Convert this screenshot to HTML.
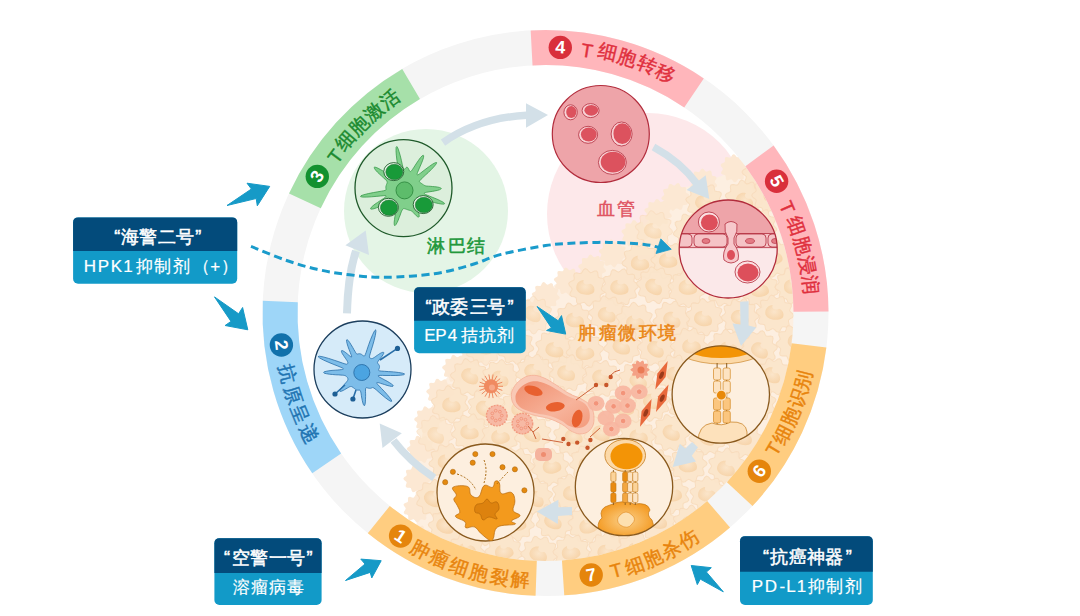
<!DOCTYPE html><html><head><meta charset="utf-8"><style>html,body{margin:0;padding:0;background:#fff;overflow:hidden}svg{display:block}text{font-family:"Liberation Sans",sans-serif}</style></head><body>
<svg width="1080" height="616" viewBox="0 0 1080 616">
<defs><clipPath id="inner"><circle cx="545.5" cy="313" r="249"/></clipPath></defs>
<circle cx="426" cy="211" r="82" fill="#e4f5e6"/>
<circle cx="648" cy="214" r="101" fill="#fde8ea"/>
<defs>
<path id="gear" d="M18.9,0 L17.9,1.9 L15.7,3.3 L14.4,4.7 L14.7,6.5 L15.5,9 L15.3,11.1 L13.3,12 L10.7,11.9 L8.9,12.2 L8,13.9 L7.3,16.4 L5.8,18 L3.7,17.6 L1.7,16 L0,15.1 L-1.7,16 L-3.7,17.6 L-5.8,18 L-7.3,16.4 L-8,13.9 L-8.9,12.2 L-10.7,11.9 L-13.3,12 L-15.3,11.1 L-15.5,9 L-14.7,6.5 L-14.4,4.7 L-15.7,3.3 L-17.9,1.9 L-18.9,0 L-17.9,-1.9 L-15.7,-3.3 L-14.4,-4.7 L-14.7,-6.5 L-15.5,-9 L-15.3,-11.1 L-13.3,-12 L-10.7,-11.9 L-8.9,-12.2 L-8,-13.9 L-7.3,-16.4 L-5.8,-18 L-3.7,-17.6 L-1.7,-16 L-0,-15.1 L1.7,-16 L3.7,-17.6 L5.8,-18 L7.3,-16.4 L8,-13.9 L8.9,-12.2 L10.7,-11.9 L13.3,-12 L15.3,-11.1 L15.5,-9 L14.7,-6.5 L14.4,-4.7 L15.7,-3.3 L17.9,-1.9Z"/>
<path id="bean" d="M-9,1.5 C-9.5,-4.5 -5.5,-7.5 -1,-7.5 C-3,-4.5 0.5,-1.5 5,-3.5 C8.5,-2 10,1.5 8.5,5 C6.5,8.5 -6.5,9 -9,1.5Z"/>
<radialGradient id="gBean" cx="50%" cy="45%" r="55%"><stop offset="0" stop-color="#fbe5ca"/><stop offset="1" stop-color="#f7d5ac"/></radialGradient>
</defs>
<g clip-path="url(#inner)">
<polygon points="417.7,555.1 415.6,493.3 417.5,465 422.5,433.8 432.1,406.1 446.5,378.3 464,358.4 498.2,330.7 535.4,305.7 555,284.6 579.7,276.3 604.1,258.8 621,245.9 649.5,220 684.2,187.8 722.9,175.5 746.3,159.3 850,150 850,600 417.1,594.1" fill="#fdefe1"/>
<use href="#gear" transform="translate(418.1,539.1) rotate(0) scale(0.75)" fill="#fce8d3"/>
<use href="#gear" transform="translate(417.1,508.4) rotate(53) scale(0.75)" fill="#fce8d3"/>
<use href="#gear" transform="translate(417.5,478.9) rotate(37) scale(0.75)" fill="#fce8d3"/>
<use href="#gear" transform="translate(421,449.3) rotate(74) scale(0.75)" fill="#fce8d3"/>
<use href="#gear" transform="translate(428.3,420) rotate(111) scale(0.75)" fill="#fce8d3"/>
<use href="#gear" transform="translate(440.3,392.4) rotate(148) scale(0.75)" fill="#fce8d3"/>
<use href="#gear" transform="translate(456.2,368.6) rotate(185) scale(0.75)" fill="#fce8d3"/>
<use href="#gear" transform="translate(473.5,351.9) rotate(222) scale(0.75)" fill="#fce8d3"/>
<use href="#gear" transform="translate(490.5,338.2) rotate(275) scale(0.75)" fill="#fce8d3"/>
<use href="#gear" transform="translate(508.4,325.1) rotate(259) scale(0.75)" fill="#fce8d3"/>
<use href="#gear" transform="translate(526.9,312.7) rotate(312) scale(0.75)" fill="#fce8d3"/>
<use href="#gear" transform="translate(545.8,296) rotate(296) scale(0.75)" fill="#fce8d3"/>
<use href="#gear" transform="translate(567.8,281.4) rotate(333) scale(0.75)" fill="#fce8d3"/>
<use href="#gear" transform="translate(592.1,268.5) rotate(10) scale(0.75)" fill="#fce8d3"/>
<use href="#gear" transform="translate(612.7,253.4) rotate(47) scale(0.75)" fill="#fce8d3"/>
<use href="#gear" transform="translate(635.3,234) rotate(84) scale(0.75)" fill="#fce8d3"/>
<use href="#gear" transform="translate(658.1,213) rotate(121) scale(0.75)" fill="#fce8d3"/>
<use href="#gear" transform="translate(675.4,196.9) rotate(174) scale(0.75)" fill="#fce8d3"/>
<use href="#gear" transform="translate(703.3,182.7) rotate(158) scale(0.75)" fill="#fce8d3"/>
<use href="#gear" transform="translate(734.3,168.3) rotate(195) scale(0.75)" fill="#fce8d3"/>
<use href="#gear" transform="translate(760.9,172.6) rotate(254)" fill="#fbe5cb" stroke="#f8dcbd" stroke-width="1" opacity="0.95"/>
<use href="#gear" transform="translate(704.5,201.9) rotate(224)" fill="#fbe5cb" stroke="#f8dcbd" stroke-width="1" opacity="0.95"/>
<use href="#gear" transform="translate(743.9,198.8) rotate(299)" fill="#fbe5cb" stroke="#f8dcbd" stroke-width="1" opacity="0.95"/>
<use href="#gear" transform="translate(770.6,195.4) rotate(288)" fill="#fbe5cb" stroke="#f8dcbd" stroke-width="1" opacity="0.95"/>
<use href="#gear" transform="translate(654,229.3) rotate(45)" fill="#fbe5cb" stroke="#f8dcbd" stroke-width="1" opacity="0.7"/>
<use href="#gear" transform="translate(692,231.1) rotate(135)" fill="#fbe5cb" stroke="#f8dcbd" stroke-width="1" opacity="0.95"/>
<use href="#gear" transform="translate(726.6,228.4) rotate(240)" fill="#fbe5cb" stroke="#f8dcbd" stroke-width="1" opacity="0.95"/>
<use href="#gear" transform="translate(758.2,226.4) rotate(83)" fill="#fbe5cb" stroke="#f8dcbd" stroke-width="1" opacity="0.95"/>
<use href="#gear" transform="translate(640.8,261.5) rotate(66)" fill="#fbe5cb" stroke="#f8dcbd" stroke-width="1" opacity="0.95"/>
<use href="#gear" transform="translate(669.7,261.1) rotate(4)" fill="#fbe5cb" stroke="#f8dcbd" stroke-width="1" opacity="0.95"/>
<use href="#gear" transform="translate(709.7,258.5) rotate(210)" fill="#fbe5cb" stroke="#f8dcbd" stroke-width="1" opacity="0.95"/>
<use href="#gear" transform="translate(740.6,255.9) rotate(338)" fill="#fbe5cb" stroke="#f8dcbd" stroke-width="1" opacity="0.95"/>
<use href="#gear" transform="translate(774.3,258.3) rotate(349)" fill="#fbe5cb" stroke="#f8dcbd" stroke-width="1" opacity="0.95"/>
<use href="#gear" transform="translate(587.2,287.4) rotate(48)" fill="#fbe5cb" stroke="#f8dcbd" stroke-width="1" opacity="0.95"/>
<use href="#gear" transform="translate(620,287.2) rotate(247)" fill="#fbe5cb" stroke="#f8dcbd" stroke-width="1" opacity="0.95"/>
<use href="#gear" transform="translate(655.2,285.2) rotate(150)" fill="#fbe5cb" stroke="#f8dcbd" stroke-width="1" opacity="0.95"/>
<use href="#gear" transform="translate(686.6,289) rotate(227)" fill="#fbe5cb" stroke="#f8dcbd" stroke-width="1" opacity="0.95"/>
<use href="#gear" transform="translate(724.1,288.1) rotate(142)" fill="#fbe5cb" stroke="#f8dcbd" stroke-width="1" opacity="0.95"/>
<use href="#gear" transform="translate(759.8,288.8) rotate(336)" fill="#fbe5cb" stroke="#f8dcbd" stroke-width="1" opacity="0.95"/>
<use href="#gear" transform="translate(793.9,285.8) rotate(355)" fill="#fbe5cb" stroke="#f8dcbd" stroke-width="1" opacity="0.95"/>
<use href="#gear" transform="translate(533.5,315.1) rotate(17)" fill="#fbe5cb" stroke="#f8dcbd" stroke-width="1" opacity="0.7"/>
<use href="#gear" transform="translate(572.7,321.4) rotate(256)" fill="#fbe5cb" stroke="#f8dcbd" stroke-width="1" opacity="0.95"/>
<use href="#gear" transform="translate(607.4,314.2) rotate(42)" fill="#fbe5cb" stroke="#f8dcbd" stroke-width="1" opacity="0.95"/>
<use href="#gear" transform="translate(634.5,321.1) rotate(15)" fill="#fbe5cb" stroke="#f8dcbd" stroke-width="1" opacity="0.95"/>
<use href="#gear" transform="translate(671.7,319.6) rotate(102)" fill="#fbe5cb" stroke="#f8dcbd" stroke-width="1" opacity="0.95"/>
<use href="#gear" transform="translate(704.6,317.2) rotate(263)" fill="#fbe5cb" stroke="#f8dcbd" stroke-width="1" opacity="0.95"/>
<use href="#gear" transform="translate(740.1,316.9) rotate(357)" fill="#fbe5cb" stroke="#f8dcbd" stroke-width="1" opacity="0.95"/>
<use href="#gear" transform="translate(774.8,313.6) rotate(43)" fill="#fbe5cb" stroke="#f8dcbd" stroke-width="1" opacity="0.95"/>
<use href="#gear" transform="translate(483.7,346.8) rotate(118)" fill="#fbe5cb" stroke="#f8dcbd" stroke-width="1" opacity="0.7"/>
<use href="#gear" transform="translate(515.1,345.9) rotate(9)" fill="#fbe5cb" stroke="#f8dcbd" stroke-width="1" opacity="0.95"/>
<use href="#gear" transform="translate(554.1,348.1) rotate(195)" fill="#fbe5cb" stroke="#f8dcbd" stroke-width="1" opacity="0.95"/>
<use href="#gear" transform="translate(584.9,350.6) rotate(173)" fill="#fbe5cb" stroke="#f8dcbd" stroke-width="1" opacity="0.95"/>
<use href="#gear" transform="translate(622.3,345.8) rotate(134)" fill="#fbe5cb" stroke="#f8dcbd" stroke-width="1" opacity="0.95"/>
<use href="#gear" transform="translate(656.3,347.6) rotate(111)" fill="#fbe5cb" stroke="#f8dcbd" stroke-width="1" opacity="0.95"/>
<use href="#gear" transform="translate(689.3,346.2) rotate(288)" fill="#fbe5cb" stroke="#f8dcbd" stroke-width="1" opacity="0.95"/>
<use href="#gear" transform="translate(727,348.2) rotate(301)" fill="#fbe5cb" stroke="#f8dcbd" stroke-width="1" opacity="0.95"/>
<use href="#gear" transform="translate(758.6,349.2) rotate(102)" fill="#fbe5cb" stroke="#f8dcbd" stroke-width="1" opacity="0.95"/>
<use href="#gear" transform="translate(794.8,343.2) rotate(141)" fill="#fbe5cb" stroke="#f8dcbd" stroke-width="1" opacity="0.95"/>
<use href="#gear" transform="translate(469.2,377.1) rotate(222)" fill="#fbe5cb" stroke="#f8dcbd" stroke-width="1" opacity="0.95"/>
<use href="#gear" transform="translate(500.3,378.4) rotate(275)" fill="#fbe5cb" stroke="#f8dcbd" stroke-width="1" opacity="0.95"/>
<use href="#gear" transform="translate(534.4,372.8) rotate(353)" fill="#fbe5cb" stroke="#f8dcbd" stroke-width="1" opacity="0.95"/>
<use href="#gear" transform="translate(568,373) rotate(140)" fill="#fbe5cb" stroke="#f8dcbd" stroke-width="1" opacity="0.95"/>
<use href="#gear" transform="translate(601.3,378.7) rotate(249)" fill="#fbe5cb" stroke="#f8dcbd" stroke-width="1" opacity="0.95"/>
<use href="#gear" transform="translate(637.1,379.8) rotate(196)" fill="#fbe5cb" stroke="#f8dcbd" stroke-width="1" opacity="0.95"/>
<use href="#gear" transform="translate(674,373) rotate(288)" fill="#fbe5cb" stroke="#f8dcbd" stroke-width="1" opacity="0.95"/>
<use href="#gear" transform="translate(709.9,380.2) rotate(52)" fill="#fbe5cb" stroke="#f8dcbd" stroke-width="1" opacity="0.95"/>
<use href="#gear" transform="translate(736.6,379.9) rotate(63)" fill="#fbe5cb" stroke="#f8dcbd" stroke-width="1" opacity="0.95"/>
<use href="#gear" transform="translate(773.4,376.5) rotate(38)" fill="#fbe5cb" stroke="#f8dcbd" stroke-width="1" opacity="0.95"/>
<use href="#gear" transform="translate(449.9,404.4) rotate(336)" fill="#fbe5cb" stroke="#f8dcbd" stroke-width="1" opacity="0.95"/>
<use href="#gear" transform="translate(486.5,406.7) rotate(90)" fill="#fbe5cb" stroke="#f8dcbd" stroke-width="1" opacity="0.95"/>
<use href="#gear" transform="translate(519.7,407.3) rotate(175)" fill="#fbe5cb" stroke="#f8dcbd" stroke-width="1" opacity="0.95"/>
<use href="#gear" transform="translate(555,403.7) rotate(43)" fill="#fbe5cb" stroke="#f8dcbd" stroke-width="1" opacity="0.95"/>
<use href="#gear" transform="translate(585,410.1) rotate(116)" fill="#fbe5cb" stroke="#f8dcbd" stroke-width="1" opacity="0.95"/>
<use href="#gear" transform="translate(624.3,409.3) rotate(6)" fill="#fbe5cb" stroke="#f8dcbd" stroke-width="1" opacity="0.95"/>
<use href="#gear" transform="translate(651.3,402.7) rotate(203)" fill="#fbe5cb" stroke="#f8dcbd" stroke-width="1" opacity="0.95"/>
<use href="#gear" transform="translate(687.2,405.6) rotate(51)" fill="#fbe5cb" stroke="#f8dcbd" stroke-width="1" opacity="0.95"/>
<use href="#gear" transform="translate(724,403) rotate(225)" fill="#fbe5cb" stroke="#f8dcbd" stroke-width="1" opacity="0.95"/>
<use href="#gear" transform="translate(757.3,402.8) rotate(98)" fill="#fbe5cb" stroke="#f8dcbd" stroke-width="1" opacity="0.95"/>
<use href="#gear" transform="translate(435.5,434.2) rotate(81)" fill="#fbe5cb" stroke="#f8dcbd" stroke-width="1" opacity="0.7"/>
<use href="#gear" transform="translate(470.2,432.4) rotate(173)" fill="#fbe5cb" stroke="#f8dcbd" stroke-width="1" opacity="0.95"/>
<use href="#gear" transform="translate(499.7,437.1) rotate(131)" fill="#fbe5cb" stroke="#f8dcbd" stroke-width="1" opacity="0.95"/>
<use href="#gear" transform="translate(532.7,434.2) rotate(93)" fill="#fbe5cb" stroke="#f8dcbd" stroke-width="1" opacity="0.95"/>
<use href="#gear" transform="translate(571.8,437.4) rotate(18)" fill="#fbe5cb" stroke="#f8dcbd" stroke-width="1" opacity="0.95"/>
<use href="#gear" transform="translate(602.3,432.9) rotate(23)" fill="#fbe5cb" stroke="#f8dcbd" stroke-width="1" opacity="0.95"/>
<use href="#gear" transform="translate(636.9,437.6) rotate(321)" fill="#fbe5cb" stroke="#f8dcbd" stroke-width="1" opacity="0.95"/>
<use href="#gear" transform="translate(670.9,432.7) rotate(111)" fill="#fbe5cb" stroke="#f8dcbd" stroke-width="1" opacity="0.95"/>
<use href="#gear" transform="translate(707.7,436.4) rotate(28)" fill="#fbe5cb" stroke="#f8dcbd" stroke-width="1" opacity="0.95"/>
<use href="#gear" transform="translate(743.3,439.3) rotate(65)" fill="#fbe5cb" stroke="#f8dcbd" stroke-width="1" opacity="0.95"/>
<use href="#gear" transform="translate(447.7,462) rotate(174)" fill="#fbe5cb" stroke="#f8dcbd" stroke-width="1" opacity="0.95"/>
<use href="#gear" transform="translate(486.9,468.6) rotate(358)" fill="#fbe5cb" stroke="#f8dcbd" stroke-width="1" opacity="0.95"/>
<use href="#gear" transform="translate(515.7,466.5) rotate(72)" fill="#fbe5cb" stroke="#f8dcbd" stroke-width="1" opacity="0.95"/>
<use href="#gear" transform="translate(550.2,467.3) rotate(312)" fill="#fbe5cb" stroke="#f8dcbd" stroke-width="1" opacity="0.95"/>
<use href="#gear" transform="translate(588.2,463.3) rotate(174)" fill="#fbe5cb" stroke="#f8dcbd" stroke-width="1" opacity="0.95"/>
<use href="#gear" transform="translate(618.8,467.5) rotate(149)" fill="#fbe5cb" stroke="#f8dcbd" stroke-width="1" opacity="0.95"/>
<use href="#gear" transform="translate(655.2,467.5) rotate(290)" fill="#fbe5cb" stroke="#f8dcbd" stroke-width="1" opacity="0.95"/>
<use href="#gear" transform="translate(688.2,464.1) rotate(142)" fill="#fbe5cb" stroke="#f8dcbd" stroke-width="1" opacity="0.95"/>
<use href="#gear" transform="translate(726.7,466.8) rotate(20)" fill="#fbe5cb" stroke="#f8dcbd" stroke-width="1" opacity="0.95"/>
<use href="#gear" transform="translate(434.7,498.2) rotate(198)" fill="#fbe5cb" stroke="#f8dcbd" stroke-width="1" opacity="0.95"/>
<use href="#gear" transform="translate(464.3,491.8) rotate(236)" fill="#fbe5cb" stroke="#f8dcbd" stroke-width="1" opacity="0.95"/>
<use href="#gear" transform="translate(499.5,492.7) rotate(224)" fill="#fbe5cb" stroke="#f8dcbd" stroke-width="1" opacity="0.95"/>
<use href="#gear" transform="translate(533.9,496.7) rotate(99)" fill="#fbe5cb" stroke="#f8dcbd" stroke-width="1" opacity="0.95"/>
<use href="#gear" transform="translate(570.8,492.8) rotate(337)" fill="#fbe5cb" stroke="#f8dcbd" stroke-width="1" opacity="0.95"/>
<use href="#gear" transform="translate(601.5,493.2) rotate(311)" fill="#fbe5cb" stroke="#f8dcbd" stroke-width="1" opacity="0.95"/>
<use href="#gear" transform="translate(635.4,497) rotate(357)" fill="#fbe5cb" stroke="#f8dcbd" stroke-width="1" opacity="0.95"/>
<use href="#gear" transform="translate(670.5,495.3) rotate(159)" fill="#fbe5cb" stroke="#f8dcbd" stroke-width="1" opacity="0.95"/>
<use href="#gear" transform="translate(708.5,494.8) rotate(300)" fill="#fbe5cb" stroke="#f8dcbd" stroke-width="1" opacity="0.95"/>
<use href="#gear" transform="translate(447,527.1) rotate(260)" fill="#fbe5cb" stroke="#f8dcbd" stroke-width="1" opacity="0.95"/>
<use href="#gear" transform="translate(487.8,527.1) rotate(63)" fill="#fbe5cb" stroke="#f8dcbd" stroke-width="1" opacity="0.95"/>
<use href="#gear" transform="translate(515.7,522.7) rotate(9)" fill="#fbe5cb" stroke="#f8dcbd" stroke-width="1" opacity="0.95"/>
<use href="#gear" transform="translate(554.7,521.3) rotate(60)" fill="#fbe5cb" stroke="#f8dcbd" stroke-width="1" opacity="0.95"/>
<use href="#gear" transform="translate(586.8,524.3) rotate(42)" fill="#fbe5cb" stroke="#f8dcbd" stroke-width="1" opacity="0.95"/>
<use href="#gear" transform="translate(624.6,525.2) rotate(26)" fill="#fbe5cb" stroke="#f8dcbd" stroke-width="1" opacity="0.95"/>
<use href="#gear" transform="translate(657.9,523) rotate(129)" fill="#fbe5cb" stroke="#f8dcbd" stroke-width="1" opacity="0.95"/>
<use href="#gear" transform="translate(691.3,523.9) rotate(271)" fill="#fbe5cb" stroke="#f8dcbd" stroke-width="1" opacity="0.95"/>
<use href="#gear" transform="translate(466.1,551.7) rotate(111)" fill="#fbe5cb" stroke="#f8dcbd" stroke-width="1" opacity="0.95"/>
<use href="#gear" transform="translate(503.9,552.8) rotate(185)" fill="#fbe5cb" stroke="#f8dcbd" stroke-width="1" opacity="0.95"/>
<use href="#gear" transform="translate(539.6,554.6) rotate(3)" fill="#fbe5cb" stroke="#f8dcbd" stroke-width="1" opacity="0.95"/>
<use href="#gear" transform="translate(571.8,552.8) rotate(75)" fill="#fbe5cb" stroke="#f8dcbd" stroke-width="1" opacity="0.95"/>
<use href="#gear" transform="translate(606.6,550.9) rotate(345)" fill="#fbe5cb" stroke="#f8dcbd" stroke-width="1" opacity="0.95"/>
<use href="#gear" transform="translate(635.1,550.9) rotate(3)" fill="#fbe5cb" stroke="#f8dcbd" stroke-width="1" opacity="0.95"/>
<use href="#bean" transform="translate(762.2,173.8) rotate(1)" fill="url(#gBean)" opacity="1"/>
<use href="#bean" transform="translate(704.1,203.1) rotate(11)" fill="url(#gBean)" opacity="1"/>
<use href="#bean" transform="translate(744.9,200.7) rotate(16)" fill="url(#gBean)" opacity="1"/>
<use href="#bean" transform="translate(772.4,195) rotate(-19)" fill="url(#gBean)" opacity="1"/>
<use href="#bean" transform="translate(653,230.9) rotate(10)" fill="url(#gBean)" opacity="0.75"/>
<use href="#bean" transform="translate(692.3,230) rotate(-23)" fill="url(#gBean)" opacity="1"/>
<use href="#bean" transform="translate(726,229.1) rotate(-5)" fill="url(#gBean)" opacity="1"/>
<use href="#bean" transform="translate(757.7,226.9) rotate(15)" fill="url(#gBean)" opacity="1"/>
<use href="#bean" transform="translate(639.9,263.1) rotate(-7)" fill="url(#gBean)" opacity="1"/>
<use href="#bean" transform="translate(668,260.5) rotate(-8)" fill="url(#gBean)" opacity="1"/>
<use href="#bean" transform="translate(708.6,259.5) rotate(12)" fill="url(#gBean)" opacity="1"/>
<use href="#bean" transform="translate(741.3,254.6) rotate(2)" fill="url(#gBean)" opacity="1"/>
<use href="#bean" transform="translate(772.9,257.7) rotate(-19)" fill="url(#gBean)" opacity="1"/>
<use href="#bean" transform="translate(585.3,287.4) rotate(-3)" fill="url(#gBean)" opacity="1"/>
<use href="#bean" transform="translate(619.3,287.4) rotate(-4)" fill="url(#gBean)" opacity="1"/>
<use href="#bean" transform="translate(654.1,286.7) rotate(22)" fill="url(#gBean)" opacity="1"/>
<use href="#bean" transform="translate(687.7,287.4) rotate(-8)" fill="url(#gBean)" opacity="1"/>
<use href="#bean" transform="translate(723.8,290) rotate(24)" fill="url(#gBean)" opacity="1"/>
<use href="#bean" transform="translate(759.4,289.6) rotate(-14)" fill="url(#gBean)" opacity="1"/>
<use href="#bean" transform="translate(792.9,286.5) rotate(-16)" fill="url(#gBean)" opacity="1"/>
<use href="#bean" transform="translate(532.8,313.8) rotate(22)" fill="url(#gBean)" opacity="0.75"/>
<use href="#bean" transform="translate(574.7,320) rotate(-7)" fill="url(#gBean)" opacity="1"/>
<use href="#bean" transform="translate(606.9,314.8) rotate(6)" fill="url(#gBean)" opacity="1"/>
<use href="#bean" transform="translate(635,322.6) rotate(-14)" fill="url(#gBean)" opacity="1"/>
<use href="#bean" transform="translate(672.2,319.6) rotate(17)" fill="url(#gBean)" opacity="1"/>
<use href="#bean" transform="translate(703.1,318.6) rotate(3)" fill="url(#gBean)" opacity="1"/>
<use href="#bean" transform="translate(739.9,317.6) rotate(9)" fill="url(#gBean)" opacity="1"/>
<use href="#bean" transform="translate(774.3,312.5) rotate(-4)" fill="url(#gBean)" opacity="1"/>
<use href="#bean" transform="translate(484,346.9) rotate(5)" fill="url(#gBean)" opacity="0.75"/>
<use href="#bean" transform="translate(515.6,345.7) rotate(-23)" fill="url(#gBean)" opacity="1"/>
<use href="#bean" transform="translate(554.5,349.8) rotate(4)" fill="url(#gBean)" opacity="1"/>
<use href="#bean" transform="translate(584.7,352.6) rotate(-17)" fill="url(#gBean)" opacity="1"/>
<use href="#bean" transform="translate(621.6,346.7) rotate(11)" fill="url(#gBean)" opacity="1"/>
<use href="#bean" transform="translate(655.9,349.1) rotate(24)" fill="url(#gBean)" opacity="1"/>
<use href="#bean" transform="translate(691.2,346.1) rotate(-18)" fill="url(#gBean)" opacity="1"/>
<use href="#bean" transform="translate(728.4,348.8) rotate(-13)" fill="url(#gBean)" opacity="1"/>
<use href="#bean" transform="translate(759.9,350.3) rotate(21)" fill="url(#gBean)" opacity="1"/>
<use href="#bean" transform="translate(796.8,341.5) rotate(0)" fill="url(#gBean)" opacity="1"/>
<use href="#bean" transform="translate(470.1,376.1) rotate(18)" fill="url(#gBean)" opacity="1"/>
<use href="#bean" transform="translate(500.1,378.5) rotate(15)" fill="url(#gBean)" opacity="1"/>
<use href="#bean" transform="translate(533.2,371.9) rotate(18)" fill="url(#gBean)" opacity="1"/>
<use href="#bean" transform="translate(566.3,373.2) rotate(7)" fill="url(#gBean)" opacity="1"/>
<use href="#bean" transform="translate(601.2,377.6) rotate(14)" fill="url(#gBean)" opacity="1"/>
<use href="#bean" transform="translate(638.5,380.9) rotate(14)" fill="url(#gBean)" opacity="1"/>
<use href="#bean" transform="translate(675.6,374.2) rotate(2)" fill="url(#gBean)" opacity="1"/>
<use href="#bean" transform="translate(709.4,378.6) rotate(-17)" fill="url(#gBean)" opacity="1"/>
<use href="#bean" transform="translate(736,381.3) rotate(-23)" fill="url(#gBean)" opacity="1"/>
<use href="#bean" transform="translate(771.9,375.2) rotate(16)" fill="url(#gBean)" opacity="1"/>
<use href="#bean" transform="translate(451.3,404.9) rotate(-5)" fill="url(#gBean)" opacity="1"/>
<use href="#bean" transform="translate(484.8,408.7) rotate(20)" fill="url(#gBean)" opacity="1"/>
<use href="#bean" transform="translate(520.3,408.8) rotate(-14)" fill="url(#gBean)" opacity="1"/>
<use href="#bean" transform="translate(553.8,404.4) rotate(11)" fill="url(#gBean)" opacity="1"/>
<use href="#bean" transform="translate(583.1,409.4) rotate(-3)" fill="url(#gBean)" opacity="1"/>
<use href="#bean" transform="translate(624.8,408.4) rotate(-9)" fill="url(#gBean)" opacity="1"/>
<use href="#bean" transform="translate(652.1,401.4) rotate(5)" fill="url(#gBean)" opacity="1"/>
<use href="#bean" transform="translate(687.9,405.5) rotate(-18)" fill="url(#gBean)" opacity="1"/>
<use href="#bean" transform="translate(722.5,404.8) rotate(-18)" fill="url(#gBean)" opacity="1"/>
<use href="#bean" transform="translate(756.8,401.6) rotate(5)" fill="url(#gBean)" opacity="1"/>
<use href="#bean" transform="translate(436.2,435.1) rotate(24)" fill="url(#gBean)" opacity="0.75"/>
<use href="#bean" transform="translate(469.4,432) rotate(-6)" fill="url(#gBean)" opacity="1"/>
<use href="#bean" transform="translate(500.2,436.8) rotate(-17)" fill="url(#gBean)" opacity="1"/>
<use href="#bean" transform="translate(532.3,434.1) rotate(16)" fill="url(#gBean)" opacity="1"/>
<use href="#bean" transform="translate(573.6,436.7) rotate(0)" fill="url(#gBean)" opacity="1"/>
<use href="#bean" transform="translate(601.2,433.3) rotate(10)" fill="url(#gBean)" opacity="1"/>
<use href="#bean" transform="translate(638.4,436.8) rotate(-10)" fill="url(#gBean)" opacity="1"/>
<use href="#bean" transform="translate(671.6,432.6) rotate(17)" fill="url(#gBean)" opacity="1"/>
<use href="#bean" transform="translate(707.2,437.3) rotate(21)" fill="url(#gBean)" opacity="1"/>
<use href="#bean" transform="translate(743.1,437.6) rotate(5)" fill="url(#gBean)" opacity="1"/>
<use href="#bean" transform="translate(446.8,461.8) rotate(-4)" fill="url(#gBean)" opacity="1"/>
<use href="#bean" transform="translate(486.1,469.4) rotate(22)" fill="url(#gBean)" opacity="1"/>
<use href="#bean" transform="translate(514.7,466.1) rotate(8)" fill="url(#gBean)" opacity="1"/>
<use href="#bean" transform="translate(551.7,466.4) rotate(-18)" fill="url(#gBean)" opacity="1"/>
<use href="#bean" transform="translate(587.6,464.6) rotate(-3)" fill="url(#gBean)" opacity="1"/>
<use href="#bean" transform="translate(619.1,467.7) rotate(17)" fill="url(#gBean)" opacity="1"/>
<use href="#bean" transform="translate(656.8,465.9) rotate(-20)" fill="url(#gBean)" opacity="1"/>
<use href="#bean" transform="translate(687.7,465) rotate(-6)" fill="url(#gBean)" opacity="1"/>
<use href="#bean" transform="translate(726.1,468.4) rotate(8)" fill="url(#gBean)" opacity="1"/>
<use href="#bean" transform="translate(432.8,498.8) rotate(22)" fill="url(#gBean)" opacity="1"/>
<use href="#bean" transform="translate(463.7,491.7) rotate(-1)" fill="url(#gBean)" opacity="1"/>
<use href="#bean" transform="translate(500.2,493.1) rotate(-9)" fill="url(#gBean)" opacity="1"/>
<use href="#bean" transform="translate(535.8,498.7) rotate(23)" fill="url(#gBean)" opacity="1"/>
<use href="#bean" transform="translate(572.1,493.4) rotate(-5)" fill="url(#gBean)" opacity="1"/>
<use href="#bean" transform="translate(603.5,491.5) rotate(10)" fill="url(#gBean)" opacity="1"/>
<use href="#bean" transform="translate(635,497.6) rotate(-1)" fill="url(#gBean)" opacity="1"/>
<use href="#bean" transform="translate(672.5,494.2) rotate(-14)" fill="url(#gBean)" opacity="1"/>
<use href="#bean" transform="translate(707.1,494.4) rotate(-6)" fill="url(#gBean)" opacity="1"/>
<use href="#bean" transform="translate(445.3,525.8) rotate(12)" fill="url(#gBean)" opacity="1"/>
<use href="#bean" transform="translate(488.3,528.1) rotate(7)" fill="url(#gBean)" opacity="1"/>
<use href="#bean" transform="translate(516.9,523.6) rotate(-12)" fill="url(#gBean)" opacity="1"/>
<use href="#bean" transform="translate(553.2,521.2) rotate(13)" fill="url(#gBean)" opacity="1"/>
<use href="#bean" transform="translate(588.3,526.1) rotate(-24)" fill="url(#gBean)" opacity="1"/>
<use href="#bean" transform="translate(622.7,524.6) rotate(19)" fill="url(#gBean)" opacity="1"/>
<use href="#bean" transform="translate(658,521.4) rotate(1)" fill="url(#gBean)" opacity="1"/>
<use href="#bean" transform="translate(690.5,523.9) rotate(14)" fill="url(#gBean)" opacity="1"/>
<use href="#bean" transform="translate(466.3,550.2) rotate(-18)" fill="url(#gBean)" opacity="1"/>
<use href="#bean" transform="translate(503.9,551.9) rotate(-20)" fill="url(#gBean)" opacity="1"/>
<use href="#bean" transform="translate(538.5,554.3) rotate(13)" fill="url(#gBean)" opacity="1"/>
<use href="#bean" transform="translate(570.7,552.6) rotate(-22)" fill="url(#gBean)" opacity="1"/>
<use href="#bean" transform="translate(606.5,552.3) rotate(2)" fill="url(#gBean)" opacity="1"/>
<use href="#bean" transform="translate(636.5,549.5) rotate(-19)" fill="url(#gBean)" opacity="1"/>
</g>
<g>
<path d="M511.4,396.5 C511.2,393 511.7,391.2 513.6,387.8 C515.5,384.4 517.4,382.2 520.9,379.7 C524.4,377.2 526.8,375.8 531.2,375.4 C535.6,375 537.9,375.6 542.9,377.5 C547.9,379.4 550.7,381.7 556,384.9 C561.3,388.1 563.9,390.7 569.2,393.6 C574.5,396.5 577.9,396.9 582.3,399.5 C586.7,402.1 588.8,403 591.1,406.8 C593.4,410.6 594,414.1 594,418.5 C594,422.9 593.4,425.6 591.1,428.7 C588.8,431.8 586.1,433.2 582.3,433.8 C578.5,434.4 576.2,433.5 572.1,431.6 C568,429.7 566.6,426.9 561.9,424.3 C557.2,421.7 554,420.2 548.7,418.5 C543.4,416.8 540.9,417.1 535.6,415.6 C530.3,414.1 526.6,413.3 522.4,411.2 C518.2,409.1 516.6,408.2 514.4,405.3 C512.2,402.4 511.6,400 511.4,396.5Z" fill="#f9c9b5" stroke="#f4ae95" stroke-width="0.8"/>
<path d="M515.5,398.2 C515.3,395.4 515.8,393.9 517.5,391.2 C519.2,388.5 520.9,386.7 524,384.8 C527.2,382.8 529.3,381.7 533.3,381.3 C537.3,381 539.4,381.5 543.8,383 C548.3,384.5 550.9,386.3 555.6,388.9 C560.4,391.5 562.8,393.5 567.5,395.9 C572.2,398.2 575.4,398.5 579.3,400.6 C583.2,402.7 585.1,403.4 587.2,406.4 C589.3,409.5 589.8,412.3 589.8,415.8 C589.8,419.3 589.3,421.5 587.2,424 C585.1,426.4 582.7,427.6 579.3,428 C575.9,428.5 573.8,427.8 570.1,426.3 C566.4,424.8 565.2,422.5 560.9,420.4 C556.7,418.3 553.8,417.2 549.1,415.8 C544.3,414.4 542,414.6 537.3,413.5 C532.5,412.3 529.2,411.6 525.4,410 C521.6,408.3 520.2,407.6 518.2,405.2 C516.2,402.9 515.6,401 515.5,398.2Z" fill="url(#gVes)"/>
<ellipse cx="533.4" cy="390.7" rx="9.5" ry="4.6" transform="rotate(18 533.4 390.7)" fill="#e8602f"/>
<ellipse cx="555.3" cy="406.8" rx="9.5" ry="4.6" transform="rotate(-8 555.3 406.8)" fill="#e8602f"/>
<ellipse cx="577.2" cy="418.5" rx="5" ry="9" transform="rotate(15 577.2 418.5)" fill="#e8602f"/>
<line x1="491" y1="386.3" x2="503" y2="386.3" stroke="#ee8a60" stroke-width="1"/><line x1="491" y1="386.3" x2="502.3" y2="390.4" stroke="#ee8a60" stroke-width="1"/><line x1="491" y1="386.3" x2="500.2" y2="394" stroke="#ee8a60" stroke-width="1"/><line x1="491" y1="386.3" x2="497" y2="396.7" stroke="#ee8a60" stroke-width="1"/><line x1="491" y1="386.3" x2="493.1" y2="398.1" stroke="#ee8a60" stroke-width="1"/><line x1="491" y1="386.3" x2="488.9" y2="398.1" stroke="#ee8a60" stroke-width="1"/><line x1="491" y1="386.3" x2="485" y2="396.7" stroke="#ee8a60" stroke-width="1"/><line x1="491" y1="386.3" x2="481.8" y2="394" stroke="#ee8a60" stroke-width="1"/><line x1="491" y1="386.3" x2="479.7" y2="390.4" stroke="#ee8a60" stroke-width="1"/><line x1="491" y1="386.3" x2="479" y2="386.3" stroke="#ee8a60" stroke-width="1"/><line x1="491" y1="386.3" x2="479.7" y2="382.2" stroke="#ee8a60" stroke-width="1"/><line x1="491" y1="386.3" x2="481.8" y2="378.6" stroke="#ee8a60" stroke-width="1"/><line x1="491" y1="386.3" x2="485" y2="375.9" stroke="#ee8a60" stroke-width="1"/><line x1="491" y1="386.3" x2="488.9" y2="374.5" stroke="#ee8a60" stroke-width="1"/><line x1="491" y1="386.3" x2="493.1" y2="374.5" stroke="#ee8a60" stroke-width="1"/><line x1="491" y1="386.3" x2="497" y2="375.9" stroke="#ee8a60" stroke-width="1"/><line x1="491" y1="386.3" x2="500.2" y2="378.6" stroke="#ee8a60" stroke-width="1"/><line x1="491" y1="386.3" x2="502.3" y2="382.2" stroke="#ee8a60" stroke-width="1"/>
<circle cx="491" cy="386.3" r="7" fill="#f08a60"/><circle cx="492" cy="387.5" r="3" fill="#f7a888"/>
<circle cx="496.8" cy="415.6" r="10.3" fill="#f7b9a4" stroke="#f29a80" stroke-width="1.4" stroke-dasharray="2,1"/>
<circle cx="501.8" cy="415.6" r="1.4" fill="none" stroke="#ef8a6e" stroke-width="0.7"/>
<circle cx="499.9" cy="419.5" r="1.4" fill="none" stroke="#ef8a6e" stroke-width="0.7"/>
<circle cx="495.7" cy="420.5" r="1.4" fill="none" stroke="#ef8a6e" stroke-width="0.7"/>
<circle cx="492.3" cy="417.8" r="1.4" fill="none" stroke="#ef8a6e" stroke-width="0.7"/>
<circle cx="492.3" cy="413.4" r="1.4" fill="none" stroke="#ef8a6e" stroke-width="0.7"/>
<circle cx="495.7" cy="410.7" r="1.4" fill="none" stroke="#ef8a6e" stroke-width="0.7"/>
<circle cx="499.9" cy="411.7" r="1.4" fill="none" stroke="#ef8a6e" stroke-width="0.7"/>
<circle cx="522.4" cy="423.6" r="10.3" fill="#f7b9a4" stroke="#f29a80" stroke-width="1.4" stroke-dasharray="2,1"/>
<circle cx="527.4" cy="423.6" r="1.4" fill="none" stroke="#ef8a6e" stroke-width="0.7"/>
<circle cx="525.5" cy="427.5" r="1.4" fill="none" stroke="#ef8a6e" stroke-width="0.7"/>
<circle cx="521.3" cy="428.5" r="1.4" fill="none" stroke="#ef8a6e" stroke-width="0.7"/>
<circle cx="517.9" cy="425.8" r="1.4" fill="none" stroke="#ef8a6e" stroke-width="0.7"/>
<circle cx="517.9" cy="421.4" r="1.4" fill="none" stroke="#ef8a6e" stroke-width="0.7"/>
<circle cx="521.3" cy="418.7" r="1.4" fill="none" stroke="#ef8a6e" stroke-width="0.7"/>
<circle cx="525.5" cy="419.7" r="1.4" fill="none" stroke="#ef8a6e" stroke-width="0.7"/>
<ellipse cx="623.1" cy="393.1" rx="8.5" ry="7.5" fill="#f7b5a0" opacity="0.9"/>
<ellipse cx="639.2" cy="391.7" rx="8.5" ry="7.5" fill="#f7b5a0" opacity="0.9"/>
<ellipse cx="596.1" cy="403.4" rx="8.5" ry="7.5" fill="#f7b5a0" opacity="0.9"/>
<ellipse cx="613.6" cy="406.3" rx="8.5" ry="7.5" fill="#f7b5a0" opacity="0.9"/>
<ellipse cx="627.5" cy="405.6" rx="8.5" ry="7.5" fill="#f7b5a0" opacity="0.9"/>
<ellipse cx="623.1" cy="421" rx="8.5" ry="7.5" fill="#f7b5a0" opacity="0.9"/>
<ellipse cx="611.4" cy="429" rx="8.5" ry="7.5" fill="#f7b5a0" opacity="0.9"/>
<ellipse cx="606" cy="418" rx="8.5" ry="7.5" fill="#f7b5a0" opacity="0.9"/>
<circle cx="623.1" cy="393.1" r="2.8" fill="#f3947a" stroke="#f9c8b5" stroke-width="0.8"/>
<circle cx="639.2" cy="391.7" r="2.8" fill="#f3947a" stroke="#f9c8b5" stroke-width="0.8"/>
<circle cx="596.1" cy="403.4" r="2.8" fill="#f3947a" stroke="#f9c8b5" stroke-width="0.8"/>
<circle cx="613.6" cy="406.3" r="2.8" fill="#f3947a" stroke="#f9c8b5" stroke-width="0.8"/>
<circle cx="627.5" cy="405.6" r="2.8" fill="#f3947a" stroke="#f9c8b5" stroke-width="0.8"/>
<circle cx="623.1" cy="421" r="2.8" fill="#f3947a" stroke="#f9c8b5" stroke-width="0.8"/>
<circle cx="611.4" cy="429" r="2.8" fill="#f3947a" stroke="#f9c8b5" stroke-width="0.8"/>
<path d="M9.8,0 L8.4,1.3 L6.8,2.2 L7.6,3.9 L7.9,5.8 L6,6 L4.2,5.8 L3.9,7.6 L3,9.3 L1.3,8.4 L0,7.2 L-1.3,8.4 L-3,9.3 L-3.9,7.6 L-4.2,5.8 L-6,6 L-7.9,5.8 L-7.6,3.9 L-6.8,2.2 L-8.4,1.3 L-9.8,0 L-8.4,-1.3 L-6.8,-2.2 L-7.6,-3.9 L-7.9,-5.8 L-6,-6 L-4.2,-5.8 L-3.9,-7.6 L-3,-9.3 L-1.3,-8.4 L-0,-7.2 L1.3,-8.4 L3,-9.3 L3.9,-7.6 L4.2,-5.8 L6,-6 L7.9,-5.8 L7.6,-3.9 L6.8,-2.2 L8.4,-1.3Z" transform="translate(640,369.7)" fill="#f4a185"/>
<circle cx="641" cy="370" r="3.5" fill="#ea7a55"/>
<polygon points="667.7,361 657.4,373.5 655.3,389.5 665.6,377" fill="#e8693c"/>
<ellipse cx="661.5" cy="375.2" rx="2" ry="4" transform="rotate(23.5 661.5 375.2)" fill="#9a3a1a"/>
<polygon points="668.5,384.4 658.2,396.3 656,412 666.3,400.1" fill="#e8693c"/>
<ellipse cx="662.2" cy="398.2" rx="2" ry="4" transform="rotate(24.4 662.2 398.2)" fill="#9a3a1a"/>
<polygon points="651.6,399 641.6,411.1 640,426.8 650,414.6" fill="#e8693c"/>
<ellipse cx="645.8" cy="412.9" rx="2" ry="4" transform="rotate(22.7 645.8 412.9)" fill="#9a3a1a"/>
<circle cx="563.3" cy="439" r="2.2" fill="#c8562a"/>
<circle cx="568.5" cy="444" r="2.2" fill="#c8562a"/>
<circle cx="577.2" cy="442.6" r="2.2" fill="#c8562a"/>
<circle cx="590.4" cy="440" r="2.2" fill="#c8562a"/>
<circle cx="587.5" cy="447.7" r="2.2" fill="#c8562a"/>
<circle cx="610.7" cy="377" r="2.2" fill="#c8562a"/>
<circle cx="596" cy="385" r="2.2" fill="#c8562a"/>
<circle cx="606.3" cy="385" r="2.2" fill="#c8562a"/>
<path d="M542,439 L563,442.5 M533,432 L528,426 M533,432 L539,427 M533,432 L536,439 M600,428 L590,437 M620,370 Q614,371 611,375 M576,400 L598,384" fill="none" stroke="#c8562a" stroke-width="0.9"/>
<rect x="535" y="448" width="17" height="13" rx="5" fill="#f5b39e"/><circle cx="543.5" cy="454.5" r="2.5" fill="#ee8c70"/>
</g>
<circle cx="545.5" cy="313" r="265.5" fill="none" stroke="#f5f5f5" stroke-width="35"/>
<path d="M326.7,463.4 A265.5,265.5 0 0 1 280.3,301.4" fill="none" stroke="#9ed6f8" stroke-width="35"/>
<path d="M304.9,200.8 A265.5,265.5 0 0 1 411.1,84" fill="none" stroke="#a6e0a9" stroke-width="35"/>
<path d="M531.6,47.9 A265.5,265.5 0 0 1 694,92.9" fill="none" stroke="#ffb6bb" stroke-width="35"/>
<path d="M759.5,155.8 A265.5,265.5 0 0 1 811,311.6" fill="none" stroke="#ffb6bb" stroke-width="35"/>
<path d="M809,345.4 A265.5,265.5 0 0 1 739.7,494.1" fill="none" stroke="#ffcd80" stroke-width="35"/>
<path d="M718.6,514.3 A265.5,265.5 0 0 1 563.1,577.9" fill="none" stroke="#ffcd80" stroke-width="35"/>
<path d="M536.2,578.3 A265.5,265.5 0 0 1 378.8,519.6" fill="none" stroke="#ffcd80" stroke-width="35"/>
<circle cx="281.4" cy="345" r="11.7" fill="#1171ab"/>
<text x="281.4" y="345" transform="rotate(83.1 281.4 345)" text-anchor="middle" dominant-baseline="central" font-size="18" font-weight="bold" fill="#fff">2</text>
<text x="287.1" y="374.1" transform="rotate(76.7 287.1 374.1)" text-anchor="middle" dominant-baseline="central" font-size="19" fill="#1f74b2" stroke="#1f74b2" stroke-width="0.45">抗</text>
<text x="292.9" y="394.6" transform="rotate(72.1 292.9 394.6)" text-anchor="middle" dominant-baseline="central" font-size="19" fill="#1f74b2" stroke="#1f74b2" stroke-width="0.45">原</text>
<text x="300" y="414.2" transform="rotate(67.6 300 414.2)" text-anchor="middle" dominant-baseline="central" font-size="19" fill="#1f74b2" stroke="#1f74b2" stroke-width="0.45">呈</text>
<text x="308.9" y="433.5" transform="rotate(63 308.9 433.5)" text-anchor="middle" dominant-baseline="central" font-size="19" fill="#1f74b2" stroke="#1f74b2" stroke-width="0.45">递</text>
<circle cx="317.3" cy="176.4" r="11.7" fill="#13912f"/>
<text x="317.3" y="176.4" transform="rotate(300.9 317.3 176.4)" text-anchor="middle" dominant-baseline="central" font-size="18" font-weight="bold" fill="#fff">3</text>
<text x="335.4" y="156.4" transform="rotate(306.7 335.4 156.4)" text-anchor="middle" dominant-baseline="central" font-size="19" fill="#1b8a30" stroke="#1b8a30" stroke-width="0.45">T</text>
<text x="345.3" y="140.2" transform="rotate(310.8 345.3 140.2)" text-anchor="middle" dominant-baseline="central" font-size="19" fill="#1b8a30" stroke="#1b8a30" stroke-width="0.45">细</text>
<text x="359.1" y="125.3" transform="rotate(315.2 359.1 125.3)" text-anchor="middle" dominant-baseline="central" font-size="19" fill="#1b8a30" stroke="#1b8a30" stroke-width="0.45">胞</text>
<text x="374.1" y="111.6" transform="rotate(319.6 374.1 111.6)" text-anchor="middle" dominant-baseline="central" font-size="19" fill="#1b8a30" stroke="#1b8a30" stroke-width="0.45">激</text>
<text x="390" y="99" transform="rotate(324 390 99)" text-anchor="middle" dominant-baseline="central" font-size="19" fill="#1b8a30" stroke="#1b8a30" stroke-width="0.45">活</text>
<circle cx="560.3" cy="47.4" r="11.7" fill="#d92f3b"/>
<text x="560.3" y="47.4" transform="rotate(363.2 560.3 47.4)" text-anchor="middle" dominant-baseline="central" font-size="18" font-weight="bold" fill="#fff">4</text>
<text x="587" y="50.8" transform="rotate(369 587 50.8)" text-anchor="middle" dominant-baseline="central" font-size="19" fill="#df2f3d" stroke="#df2f3d" stroke-width="0.45">T</text>
<text x="607.6" y="52.3" transform="rotate(373.4 607.6 52.3)" text-anchor="middle" dominant-baseline="central" font-size="19" fill="#df2f3d" stroke="#df2f3d" stroke-width="0.45">细</text>
<text x="627.4" y="57.8" transform="rotate(377.8 627.4 57.8)" text-anchor="middle" dominant-baseline="central" font-size="19" fill="#df2f3d" stroke="#df2f3d" stroke-width="0.45">胞</text>
<text x="646.8" y="64.9" transform="rotate(382.2 646.8 64.9)" text-anchor="middle" dominant-baseline="central" font-size="19" fill="#df2f3d" stroke="#df2f3d" stroke-width="0.45">转</text>
<text x="665.5" y="73.4" transform="rotate(386.6 665.5 73.4)" text-anchor="middle" dominant-baseline="central" font-size="19" fill="#df2f3d" stroke="#df2f3d" stroke-width="0.45">移</text>
<circle cx="776.6" cy="181.2" r="11.7" fill="#d92f3b"/>
<text x="776.6" y="181.2" transform="rotate(420.3 776.6 181.2)" text-anchor="middle" dominant-baseline="central" font-size="18" font-weight="bold" fill="#fff">5</text>
<text x="787" y="207.5" transform="rotate(426.4 787 207.5)" text-anchor="middle" dominant-baseline="central" font-size="19" fill="#df2f3d" stroke="#df2f3d" stroke-width="0.45">T</text>
<text x="796.7" y="225.5" transform="rotate(430.8 796.7 225.5)" text-anchor="middle" dominant-baseline="central" font-size="19" fill="#df2f3d" stroke="#df2f3d" stroke-width="0.45">细</text>
<text x="802.7" y="245.1" transform="rotate(435.2 802.7 245.1)" text-anchor="middle" dominant-baseline="central" font-size="19" fill="#df2f3d" stroke="#df2f3d" stroke-width="0.45">胞</text>
<text x="807.1" y="265" transform="rotate(439.6 807.1 265)" text-anchor="middle" dominant-baseline="central" font-size="19" fill="#df2f3d" stroke="#df2f3d" stroke-width="0.45">浸</text>
<text x="810" y="285.2" transform="rotate(444 810 285.2)" text-anchor="middle" dominant-baseline="central" font-size="19" fill="#df2f3d" stroke="#df2f3d" stroke-width="0.45">润</text>
<circle cx="759.3" cy="471.2" r="11.7" fill="#e5850c"/>
<text x="759.3" y="471.2" transform="rotate(-53.5 759.3 471.2)" text-anchor="middle" dominant-baseline="central" font-size="18" font-weight="bold" fill="#fff">6</text>
<text x="773.6" y="448.9" transform="rotate(-59.2 773.6 448.9)" text-anchor="middle" dominant-baseline="central" font-size="19" fill="#e8840d" stroke="#e8840d" stroke-width="0.45">T</text>
<text x="782.7" y="434.4" transform="rotate(-62.9 782.7 434.4)" text-anchor="middle" dominant-baseline="central" font-size="19" fill="#e8840d" stroke="#e8840d" stroke-width="0.45">细</text>
<text x="791" y="416.7" transform="rotate(-67.1 791 416.7)" text-anchor="middle" dominant-baseline="central" font-size="19" fill="#e8840d" stroke="#e8840d" stroke-width="0.45">胞</text>
<text x="797.9" y="398.4" transform="rotate(-71.3 797.9 398.4)" text-anchor="middle" dominant-baseline="central" font-size="19" fill="#e8840d" stroke="#e8840d" stroke-width="0.45">识</text>
<text x="803.5" y="379.7" transform="rotate(-75.5 803.5 379.7)" text-anchor="middle" dominant-baseline="central" font-size="19" fill="#e8840d" stroke="#e8840d" stroke-width="0.45">别</text>
<circle cx="591.2" cy="575" r="11.7" fill="#e5850c"/>
<text x="591.2" y="575" transform="rotate(-9.9 591.2 575)" text-anchor="middle" dominant-baseline="central" font-size="18" font-weight="bold" fill="#fff">7</text>
<text x="616.4" y="570.4" transform="rotate(-15.4 616.4 570.4)" text-anchor="middle" dominant-baseline="central" font-size="19" fill="#e8840d" stroke="#e8840d" stroke-width="0.45">T</text>
<text x="634.5" y="565.8" transform="rotate(-19.4 634.5 565.8)" text-anchor="middle" dominant-baseline="central" font-size="19" fill="#e8840d" stroke="#e8840d" stroke-width="0.45">细</text>
<text x="653.2" y="558.4" transform="rotate(-23.7 653.2 558.4)" text-anchor="middle" dominant-baseline="central" font-size="19" fill="#e8840d" stroke="#e8840d" stroke-width="0.45">胞</text>
<text x="671.3" y="549.6" transform="rotate(-28 671.3 549.6)" text-anchor="middle" dominant-baseline="central" font-size="19" fill="#e8840d" stroke="#e8840d" stroke-width="0.45">杀</text>
<text x="688.7" y="539.5" transform="rotate(-32.3 688.7 539.5)" text-anchor="middle" dominant-baseline="central" font-size="19" fill="#e8840d" stroke="#e8840d" stroke-width="0.45">伤</text>
<circle cx="400.6" cy="536.1" r="11.7" fill="#e5850c"/>
<text x="400.6" y="536.1" transform="rotate(33 400.6 536.1)" text-anchor="middle" dominant-baseline="central" font-size="18" font-weight="bold" fill="#fff">1</text>
<text x="420.5" y="550.1" transform="rotate(27.8 420.5 550.1)" text-anchor="middle" dominant-baseline="central" font-size="19" fill="#e8840d" stroke="#e8840d" stroke-width="0.45">肿</text>
<text x="439.5" y="559.1" transform="rotate(23.3 439.5 559.1)" text-anchor="middle" dominant-baseline="central" font-size="19" fill="#e8840d" stroke="#e8840d" stroke-width="0.45">瘤</text>
<text x="458.7" y="566.6" transform="rotate(18.9 458.7 566.6)" text-anchor="middle" dominant-baseline="central" font-size="19" fill="#e8840d" stroke="#e8840d" stroke-width="0.45">细</text>
<text x="478.9" y="572.6" transform="rotate(14.4 478.9 572.6)" text-anchor="middle" dominant-baseline="central" font-size="19" fill="#e8840d" stroke="#e8840d" stroke-width="0.45">胞</text>
<text x="499" y="576.9" transform="rotate(10 499 576.9)" text-anchor="middle" dominant-baseline="central" font-size="19" fill="#e8840d" stroke="#e8840d" stroke-width="0.45">裂</text>
<text x="519.8" y="579.8" transform="rotate(5.5 519.8 579.8)" text-anchor="middle" dominant-baseline="central" font-size="19" fill="#e8840d" stroke="#e8840d" stroke-width="0.45">解</text>
<defs>
<clipPath id="kc3"><circle cx="403.5" cy="188.1" r="48.5"/></clipPath>
<clipPath id="kc4"><circle cx="601" cy="134.4" r="49"/></clipPath>
<clipPath id="kc5"><circle cx="728.2" cy="249" r="49"/></clipPath>
<clipPath id="kc2"><circle cx="362.5" cy="369.5" r="48.5"/></clipPath>
<clipPath id="kc1"><circle cx="485.5" cy="492.5" r="48.5"/></clipPath>
<clipPath id="kc6"><circle cx="720.8" cy="394.5" r="48.7"/></clipPath>
<clipPath id="kc7"><circle cx="624" cy="487" r="48.7"/></clipPath>
<radialGradient id="gTum" cx="50%" cy="55%" r="60%"><stop offset="0" stop-color="#fbd08a"/><stop offset="1" stop-color="#f39518"/></radialGradient>
<linearGradient id="gVes" x1="0" y1="0" x2="1" y2="1"><stop offset="0" stop-color="#f08d6c"/><stop offset="0.6" stop-color="#f7b39b"/><stop offset="1" stop-color="#f39b7c"/></linearGradient>
</defs>
<circle cx="403.5" cy="188.1" r="48.5" fill="#dcefdc" stroke="#1f5a2a" stroke-width="1.3"/>
<path d="M385,190.4 L385.7,190.1 L386,189.8 L386.1,189.4 L386,189.1 L386,188.8 L385.9,188.4 L385.9,188.1 L385.9,187.8 L385.8,187.4 L385.9,187.1 L385.9,186.8 L385.9,186.5 L386,186.1 L386.1,185.8 L386.2,185.5 L386.3,185.2 L386.4,184.9 L386.5,184.5 L386.6,184.2 L386.7,183.9 L386.9,183.6 L387,183.3 L387.1,183 L387.2,182.7 L387.2,182.3 L387.2,182 L387,181.5 L386.7,180.9 L386,180.1 L385,179.1 L383.5,177.8 L381.7,176.1 L379.6,174.2 L377.5,172.2 L375.7,170.2 L374.5,168.6 L374.1,167.5 L374.7,167.1 L376.1,167.4 L378.2,168.3 L380.5,169.6 L382.9,170.9 L385,172.2 L386.8,173.3 L388.1,174 L389.2,174.5 L389.9,174.8 L390.5,174.9 L391,174.9 L391.4,174.8 L391.8,174.7 L392.2,174.7 L392.6,174.6 L393,174.6 L393.4,174.5 L393.8,174.5 L394.2,174.5 L394.6,174.5 L395,174.6 L395.4,174.6 L395.7,174.6 L396.1,174.6 L396.5,174.7 L396.8,174.7 L397.2,174.7 L397.5,174.6 L397.8,174.6 L398.1,174.5 L398.3,174.4 L398.6,174.1 L398.7,173.6 L398.7,172.6 L398.6,171 L398.2,168.4 L397.6,164.7 L396.9,160.1 L396.3,155.1 L396,150.5 L396.1,147.4 L396.8,146.5 L397.8,148 L399,151.5 L400.3,155.9 L401.4,160.4 L402.2,164.2 L402.9,166.9 L403.4,168.5 L403.8,169.3 L404.1,169.5 L404.5,169.3 L404.9,168.9 L405.3,168.4 L405.7,168 L406.1,167.6 L406.5,167.3 L406.9,167.2 L407.3,167.3 L407.7,167.6 L408,168 L408.4,168.6 L408.6,169.1 L408.9,169.7 L409.2,170.3 L409.4,170.7 L409.7,171.1 L410,171.3 L410.3,171.5 L410.7,171.4 L411.1,171.1 L411.7,170.5 L412.5,169.4 L413.6,167.8 L415,165.6 L416.7,163 L418.6,160.2 L420.4,157.7 L422.1,155.9 L423.2,155.2 L423.7,155.8 L423.5,157.6 L422.7,160.2 L421.5,163.2 L420.2,166.2 L419.1,168.8 L418.2,170.9 L417.5,172.5 L417.2,173.6 L417.1,174.3 L417.2,174.7 L417.5,174.9 L418.1,174.8 L419.1,174.2 L420.7,173 L423,171.2 L426,168.9 L429.4,166.4 L432.7,164.1 L435.3,162.7 L436.6,162.5 L436.3,163.8 L434.4,166.2 L431.5,169.3 L428.3,172.5 L425.2,175.3 L422.8,177.6 L421.1,179.2 L420.1,180.3 L419.6,181 L419.4,181.4 L419.5,181.8 L419.6,182 L419.8,182.2 L420.1,182.5 L420.4,182.7 L420.7,182.9 L421,183.1 L421.3,183.3 L421.6,183.5 L422,183.7 L422.3,183.9 L422.6,184.2 L422.9,184.4 L423.2,184.7 L423.6,184.9 L423.9,185.2 L424.4,185.4 L425,185.7 L425.8,185.9 L426.8,186.1 L428.3,186.2 L430.2,186.3 L432.4,186.5 L434.8,186.7 L437.2,187 L439.3,187.4 L440.7,187.9 L441.3,188.5 L440.8,189.1 L439.4,189.8 L437.4,190.4 L434.9,190.9 L432.3,191.4 L430,191.7 L428,192 L426.4,192.3 L425.3,192.6 L424.6,192.9 L424.2,193.2 L424.2,193.5 L424.6,193.9 L425.5,194.5 L427.2,195.2 L429.7,196.2 L432.9,197.5 L436.7,199 L440.3,200.7 L443.2,202.2 L444.6,203.4 L444.2,204.1 L442.1,204.1 L438.8,203.6 L434.8,202.7 L431,201.6 L427.7,200.7 L425.2,200.1 L423.5,199.7 L422.4,199.5 L421.7,199.5 L421.2,199.7 L420.8,199.8 L420.5,200 L420.3,200.2 L420,200.5 L419.7,200.7 L419.4,200.8 L419.1,201 L418.8,201.2 L418.6,201.4 L418.3,201.6 L418,201.7 L417.7,201.9 L417.5,202.1 L417.2,202.3 L417,202.5 L416.8,202.7 L416.6,202.9 L416.4,203.2 L416.3,203.5 L416.2,203.9 L416.2,204.3 L416.2,204.8 L416.3,205.5 L416.5,206.4 L416.9,207.4 L417.3,208.7 L417.8,210.2 L418.3,211.7 L418.8,213.3 L419.1,214.7 L419.2,215.9 L419.1,216.7 L418.7,217.1 L418,217 L417.2,216.5 L416.3,215.7 L415.3,214.7 L414.4,213.7 L413.6,212.8 L412.8,212.1 L412.2,211.5 L411.6,211.1 L411.1,210.8 L410.7,210.6 L410.3,210.5 L409.8,210.4 L409.5,210.3 L409.1,210.2 L408.7,210.1 L408.3,210 L407.9,209.9 L407.6,209.7 L407.2,209.6 L406.8,209.5 L406.5,209.3 L406.1,209.2 L405.8,209.1 L405.5,209 L405.1,208.9 L404.8,208.8 L404.5,208.7 L404.2,208.7 L403.9,208.7 L403.5,208.7 L403.2,208.8 L402.9,209 L402.5,209.5 L402.1,210.2 L401.6,211.3 L400.9,212.9 L400.2,215 L399.2,217.5 L398.2,220.2 L397.1,222.6 L396,224.5 L395.1,225.5 L394.5,225.4 L394.2,224.2 L394.2,222.1 L394.5,219.5 L394.9,216.7 L395.4,214.1 L395.8,211.9 L396.1,210.1 L396.3,208.8 L396.3,207.9 L396.2,207.3 L396.1,206.9 L395.9,206.6 L395.7,206.3 L395.4,206.1 L395.2,205.9 L394.9,205.7 L394.7,205.5 L394.4,205.4 L394.1,205.2 L393.8,205.1 L393.5,205 L393.2,204.8 L392.9,204.7 L392.6,204.6 L392.2,204.5 L391.9,204.4 L391.5,204.3 L391.2,204.2 L390.8,204.1 L390.4,204 L390,203.9 L389.6,203.8 L389.2,203.7 L388.8,203.6 L388.2,203.6 L387.5,203.7 L386.6,203.9 L385.4,204.3 L383.7,205 L381.7,205.8 L379.2,206.8 L376.6,207.8 L374.1,208.7 L372.1,209.1 L370.8,209.1 L370.5,208.5 L371.3,207.3 L372.9,205.8 L375.1,204.1 L377.6,202.4 L380,200.8 L382,199.5 L383.7,198.4 L384.9,197.5 L385.7,196.9 L386.1,196.4 L386.2,196 L385.9,195.7 L385,195.6 L383.2,195.7 L380.3,196 L376.2,196.4 L371.4,196.8 L366.5,197.1 L362.5,197.1 L360.5,196.6 L361,195.7 L363.9,194.7 L368.3,193.6 L373.3,192.6 L377.8,191.8 L381.3,191.2 L383.6,190.8Z" fill="#80cf8b" stroke="#3a9a4b" stroke-width="0.8" stroke-linejoin="round"/>
<circle cx="404.5" cy="190.4" r="8.5" fill="#5dbc6b" stroke="#2f8a3f" stroke-width="0.9"/>
<ellipse cx="393.75" cy="171.6" rx="10" ry="9" fill="#e8f6e8" stroke="#1f5a2a" stroke-width="0.9"/>
<ellipse cx="394.35" cy="172.0" rx="8.6" ry="7.7" fill="#189a39" stroke="#1f6a2e" stroke-width="0.5"/>
<ellipse cx="388.4" cy="207.3" rx="10" ry="9" fill="#e8f6e8" stroke="#1f5a2a" stroke-width="0.9"/>
<ellipse cx="389.0" cy="207.70000000000002" rx="8.6" ry="7.7" fill="#189a39" stroke="#1f6a2e" stroke-width="0.5"/>
<ellipse cx="423.2" cy="204.6" rx="10" ry="9" fill="#e8f6e8" stroke="#1f5a2a" stroke-width="0.9"/>
<ellipse cx="423.8" cy="205.0" rx="8.6" ry="7.7" fill="#189a39" stroke="#1f6a2e" stroke-width="0.5"/>
<circle cx="600.8" cy="134" r="48.5" fill="#eea4a9" stroke="#b22c3c" stroke-width="1.2"/>
<ellipse cx="570.6" cy="112.3" rx="6.7" ry="7.5" fill="#f8d3d6" stroke="#b22c3c" stroke-width="0.8"/>
<ellipse cx="571.3" cy="112" rx="5.1" ry="5.9" fill="#dc525e"/>
<ellipse cx="590.6" cy="110.6" rx="8.5" ry="7" fill="#f8d3d6" stroke="#b22c3c" stroke-width="0.8"/>
<ellipse cx="591.3" cy="110.3" rx="6.9" ry="5.4" fill="#dc525e"/>
<ellipse cx="588.1" cy="134.8" rx="9.5" ry="8.5" fill="#f8d3d6" stroke="#b22c3c" stroke-width="0.8"/>
<ellipse cx="588.8" cy="134.5" rx="7.9" ry="6.9" fill="#dc525e"/>
<ellipse cx="621.6" cy="134" rx="10.5" ry="12" fill="#f8d3d6" stroke="#b22c3c" stroke-width="0.8"/>
<ellipse cx="622.3" cy="133.7" rx="8.9" ry="10.4" fill="#dc525e"/>
<ellipse cx="612.4" cy="162.4" rx="14" ry="12" fill="#f8d3d6" stroke="#b22c3c" stroke-width="0.8"/>
<ellipse cx="613.1" cy="162.1" rx="12.4" ry="10.4" fill="#dc525e"/>
<g clip-path="url(#kc5)">
<rect x="678" y="199" width="102" height="102" fill="#fbe8e9"/>
<rect x="678" y="199" width="102" height="35" fill="#eea4a9"/>
<rect x="676" y="233.4" width="106" height="14.3" fill="#f5c3c6" stroke="#b22c3c" stroke-width="0.8"/>
<rect x="676" y="234" width="16" height="13" rx="4" fill="#f5c3c6" stroke="#b22c3c" stroke-width="0.8"/>
<rect x="694" y="234" width="33" height="13" rx="4" fill="#f5c3c6" stroke="#b22c3c" stroke-width="0.8"/>
<rect x="736" y="234" width="30" height="13" rx="4" fill="#f5c3c6" stroke="#b22c3c" stroke-width="0.8"/>
<rect x="768" y="234" width="16" height="13" rx="4" fill="#f5c3c6" stroke="#b22c3c" stroke-width="0.8"/>
<ellipse cx="706" cy="241" rx="4" ry="2.5" fill="#e37a84" stroke="#b22c3c" stroke-width="0.6"/><ellipse cx="750" cy="241" rx="4.5" ry="2.5" fill="#e37a84" stroke="#b22c3c" stroke-width="0.6"/><ellipse cx="775" cy="241" rx="3.5" ry="2.5" fill="#e37a84" stroke="#b22c3c" stroke-width="0.6"/>
<path d="M725,224 Q731,219 737,224 Q738,232 734,238 L734,244 Q740,252 738,260 Q731,266 724,260 Q722,252 728,244 L728,238 Q724,232 725,224Z" fill="#f7c8cb" stroke="#b22c3c" stroke-width="0.8"/>
<ellipse cx="731" cy="255" rx="4" ry="5" fill="#dd4f5b"/>
<ellipse cx="708.9" cy="222" rx="10.5" ry="10" fill="#fbe0e2" stroke="#b22c3c" stroke-width="0.8"/><ellipse cx="709.4" cy="222.5" rx="8.5" ry="8" fill="#dd4f5b"/>
<ellipse cx="747.5" cy="272" rx="12.5" ry="11" fill="#fbe0e2" stroke="#b22c3c" stroke-width="0.8"/><ellipse cx="748" cy="272.5" rx="10.5" ry="9" fill="#dd4f5b"/>
</g>
<circle cx="728.2" cy="249" r="49" fill="none" stroke="#b22c3c" stroke-width="1.3"/>
<circle cx="362.5" cy="369.5" r="48.5" fill="#d6ebf9" stroke="#1c3f5e" stroke-width="1.3"/>
<path d="M323.6,372.5 L324.2,371.8 L326.1,371.3 L328.8,370.8 L332,370.4 L335.1,370.2 L337.8,370 L339.9,369.8 L341.5,369.6 L342.5,369.4 L343.2,369.2 L343.4,368.9 L343.3,368.6 L342.6,368.1 L340.9,367.3 L338,366.1 L333.9,364.5 L328.8,362.4 L323.6,360.1 L319.7,358 L318.1,356.6 L319.4,356.2 L323.2,356.9 L328.6,358.4 L334.1,360.2 L338.9,361.8 L342.5,363.1 L344.8,363.8 L346.1,364.2 L346.8,364.2 L347.2,364.1 L347.4,363.9 L347.6,363.6 L347.7,363.3 L347.8,363 L347.8,362.7 L347.8,362.3 L347.6,361.8 L347.3,361.2 L346.9,360.4 L346.2,359.4 L345.4,358.2 L344.4,356.8 L343.4,355.3 L342.4,353.8 L341.7,352.4 L341.4,351.3 L341.5,350.7 L342,350.5 L343,350.9 L344.3,351.6 L345.8,352.7 L347.3,353.9 L348.7,355.1 L349.9,356.1 L350.8,356.8 L351.4,357.1 L351.6,356.9 L351.5,356 L351,354.5 L350.2,352.3 L349.1,349.6 L348,346.6 L347.1,343.7 L346.6,341.3 L346.6,339.9 L347.2,339.7 L348.3,340.6 L349.7,342.5 L351.2,344.9 L352.7,347.4 L353.9,349.6 L355,351.4 L355.7,352.7 L356.3,353.5 L356.8,353.9 L357.2,354 L357.5,354 L357.9,353.9 L358.2,353.9 L358.5,353.8 L358.8,353.7 L359.2,353.7 L359.5,353.7 L359.8,353.8 L360.2,353.8 L360.5,353.9 L360.8,354.1 L361.2,354.2 L361.5,354.4 L361.8,354.6 L362.1,354.8 L362.4,355 L362.7,355.2 L363,355.5 L363.3,355.7 L363.5,355.9 L363.8,356 L364.1,356.1 L364.4,356 L364.8,355.6 L365.3,354.5 L366.1,352.5 L367.2,349.2 L368.7,344.7 L370.6,339.5 L372.7,334.5 L374.5,330.9 L375.7,329.8 L375.9,331.5 L375.3,335.5 L374,340.8 L372.5,346.1 L371.1,350.5 L370.2,353.7 L369.6,355.7 L369.4,356.8 L369.5,357.4 L369.6,357.8 L369.9,357.9 L370.1,358.1 L370.4,358.2 L370.7,358.3 L370.9,358.4 L371.2,358.5 L371.5,358.6 L371.9,358.6 L372.4,358.5 L372.9,358.2 L373.7,357.8 L374.7,357.2 L375.8,356.4 L377.2,355.4 L378.7,354.4 L380.2,353.4 L381.6,352.7 L382.8,352.3 L383.5,352.3 L383.8,352.7 L383.6,353.6 L383,354.7 L382.1,356.1 L381.1,357.5 L380,358.8 L379.1,359.9 L378.4,360.9 L377.9,361.6 L377.6,362.2 L377.5,362.7 L377.5,363 L377.7,363.3 L377.9,363.6 L378.1,363.8 L378.3,364.1 L378.6,364.3 L378.8,364.6 L379,364.9 L379.1,365.1 L379.3,365.4 L379.4,365.8 L379.5,366.1 L379.5,366.4 L379.5,366.7 L379.5,367.1 L379.5,367.4 L379.4,367.8 L379.3,368.1 L379.2,368.5 L379,368.8 L378.9,369.2 L378.7,369.5 L378.6,369.8 L378.5,370.2 L378.6,370.4 L378.9,370.7 L379.8,370.9 L381.6,371.1 L384.5,371.3 L388.6,371.6 L393.6,371.9 L398.7,372.5 L402.7,373.2 L404.6,374 L403.8,374.7 L400.7,375.2 L395.9,375.5 L390.7,375.5 L386,375.5 L382.5,375.4 L380.1,375.4 L378.8,375.5 L378.2,375.7 L378.1,376 L378.3,376.3 L378.9,376.8 L379.8,377.3 L381.1,378 L382.8,378.9 L384.8,380 L387.1,381.2 L389.4,382.6 L391.4,383.9 L392.8,385 L393.3,385.9 L392.9,386.3 L391.5,386.4 L389.5,386 L387.1,385.4 L384.7,384.6 L382.4,383.9 L380.5,383.3 L379,382.8 L377.9,382.6 L377.2,382.5 L376.8,382.6 L376.7,382.9 L377,383.5 L377.8,384.6 L379.3,386.1 L381.4,388.4 L384.1,391.2 L387,394.4 L389.6,397.5 L391.3,400 L391.7,401.3 L390.6,401.3 L388.3,399.9 L385.2,397.6 L382,394.9 L379.1,392.4 L376.8,390.3 L375.1,388.9 L374,388.1 L373.2,387.7 L372.8,387.6 L372.4,387.6 L372.1,387.7 L371.8,387.9 L371.5,388 L371.2,388.1 L370.9,388.2 L370.5,388.3 L370.2,388.3 L369.9,388.3 L369.5,388.3 L369.2,388.3 L368.8,388.2 L368.4,388.2 L368.1,388.1 L367.7,388 L367.4,387.9 L367.1,387.8 L366.7,387.7 L366.4,387.7 L366.2,387.7 L365.9,387.9 L365.7,388.3 L365.6,388.9 L365.5,390 L365.5,391.7 L365.6,393.8 L365.6,396.4 L365.5,399.2 L365.4,401.9 L365.1,404 L364.7,405.4 L364.1,405.6 L363.5,404.8 L362.9,403 L362.3,400.6 L361.8,398.1 L361.4,395.7 L361.1,393.7 L360.8,392.2 L360.5,391.2 L360.2,390.6 L359.9,390.2 L359.6,390.1 L359.3,390.1 L359,390.1 L358.7,390.1 L358.4,390.2 L358,390.2 L357.7,390.2 L357.4,390.1 L357.1,390.1 L356.8,390 L356.5,389.9 L356.2,389.7 L355.9,389.6 L355.6,389.4 L355.4,389.3 L355.1,389.1 L354.8,388.9 L354.6,388.7 L354.3,388.5 L354.1,388.3 L353.9,388.1 L353.6,387.9 L353.4,387.7 L353.1,387.5 L352.9,387.4 L352.6,387.2 L352.4,387 L352.1,386.9 L351.8,386.7 L351.5,386.6 L351.2,386.5 L350.8,386.5 L350.4,386.6 L349.9,386.7 L349.2,387 L348.3,387.5 L347.3,388.1 L346,388.8 L344.7,389.6 L343.3,390.4 L341.9,391 L340.8,391.4 L340,391.4 L339.7,391.1 L339.8,390.3 L340.3,389.3 L341.2,388 L342.3,386.7 L343.5,385.3 L344.6,384.1 L345.5,383.1 L346.3,382.2 L346.9,381.4 L347.4,380.8 L347.6,380.4 L347.8,379.9 L347.9,379.6 L347.9,379.3 L347.9,379 L347.9,378.7 L347.8,378.4 L347.7,378.2 L347.6,377.9 L347.5,377.7 L347.4,377.5 L347.2,377.2 L347,377 L346.8,376.8 L346.5,376.6 L346.3,376.4 L346,376.1 L345.7,375.9 L345.2,375.7 L344.7,375.5 L343.8,375.3 L342.6,375.2 L341,375.1 L338.7,374.9 L335.9,374.8 L332.6,374.5 L329.3,374.2 L326.4,373.7 L324.3,373.2Z" fill="#7dbde9" stroke="#2a6fa8" stroke-width="0.8" stroke-linejoin="round"/>
<circle cx="361.8" cy="372.5" r="8" fill="#4ba4e1" stroke="#2a6fa8" stroke-width="0.9"/>
<path d="M380,360 L397.5,348.4 M345,385 L335,394 M356,390 L352.9,399" stroke="#2a6fa8" stroke-width="1.6"/>
<circle cx="397.5" cy="348.4" r="2.6" fill="#1e5f95"/>
<circle cx="335" cy="394" r="2.6" fill="#1e5f95"/>
<circle cx="352.9" cy="399" r="2.6" fill="#1e5f95"/>
<circle cx="485.5" cy="492.5" r="48.5" fill="#fdefdf" stroke="#8a5a1e" stroke-width="1.3"/>
<g clip-path="url(#kc1)">
<path d="M452.9,487.3 C455.1,485.6 464,485 467.6,486.5 C471.2,488 468.8,492.9 471,495 C473.2,497.1 476.2,498.7 478.8,496.8 C481.4,494.9 481.3,487.5 484,485.6 C486.7,483.7 490.3,488.2 492.5,487.3 C494.7,486.4 493.7,482.2 495.1,481.3 C496.5,480.4 498.2,480.6 499.4,483 C500.6,485.4 498.7,491.5 501.1,493.4 C503.5,495.3 508.7,491 511.5,492.5 C514.3,494 514.6,497.5 514.9,501.1 C515.2,504.7 512.2,507.7 513.2,510.6 C514.2,513.5 520.3,513.6 520,515.7 C519.7,517.8 512.5,519.2 511.5,520.9 C510.5,522.6 517.7,523.1 514.9,524.3 C512.1,525.5 502,524.2 497.7,527 C493.4,529.8 494.8,535.3 493.4,538.1 C492,540.9 493.2,541.9 490.8,541 C488.4,540.1 484.6,536.6 481.3,533.8 C478,531 477.5,528.1 474.4,526.9 C471.3,525.7 467.7,528.8 465.8,527.8 C463.9,526.8 467.1,524 465,521.8 C462.9,519.6 456.5,518.5 455.5,516.6 C454.5,514.7 459.5,514.5 459.8,512.3 C460.1,510.1 458.4,508 457.2,505.4 C456,502.8 454,501.5 453.8,499.4 C453.6,497.3 456.6,497.4 456.4,495 C456.2,492.6 450.7,489 452.9,487.3Z" fill="#f39a1d" stroke="#b86a0c" stroke-width="0.7"/>
<path d="M476,505 C477.6,503.2 480.8,504.2 483,503 C485.2,501.8 485.4,499 487,499 C488.6,499 489,502.4 491,503 C493,503.6 495.4,500.8 497,502 C498.6,503.2 499.4,506.6 499,509 C498.6,511.4 495.4,512 495,514 C494.6,516 498.2,518.4 497,519 C495.8,519.6 491.8,516.8 489,517 C486.2,517.2 484.8,520.6 483,520 C481.2,519.4 481.6,515.6 480,514 C478.4,512.4 475.8,513.8 475,512 C474.2,510.2 474.4,506.8 476,505Z" fill="#dd820e" stroke="#b0640a" stroke-width="0.6"/>
</g>
<path d="M457,474 Q470,478 476,490 M484,460 Q488,470 484,483 M508,472 Q502,478 496,485" fill="none" stroke="#a8680f" stroke-width="1" stroke-dasharray="2,1.6"/>
<circle cx="475.3" cy="454.1" r="2.6" fill="#e4890f" stroke="#a8650c" stroke-width="0.5"/>
<circle cx="492.5" cy="454.1" r="2.6" fill="#e4890f" stroke="#a8650c" stroke-width="0.5"/>
<circle cx="472.7" cy="462.7" r="2.6" fill="#e4890f" stroke="#a8650c" stroke-width="0.5"/>
<circle cx="452.9" cy="471.8" r="2.6" fill="#e4890f" stroke="#a8650c" stroke-width="0.5"/>
<circle cx="445.2" cy="482.2" r="2.6" fill="#e4890f" stroke="#a8650c" stroke-width="0.5"/>
<circle cx="502.5" cy="467.2" r="2.6" fill="#e4890f" stroke="#a8650c" stroke-width="0.5"/>
<circle cx="514.9" cy="469.3" r="2.6" fill="#e4890f" stroke="#a8650c" stroke-width="0.5"/>
<circle cx="524.4" cy="490.3" r="2.6" fill="#e4890f" stroke="#a8650c" stroke-width="0.5"/>
<circle cx="720.8" cy="394.5" r="48.7" fill="#fdefdf"/>
<g clip-path="url(#kc6)">
<ellipse cx="720.8" cy="340" rx="52" ry="24" fill="#fcd9a8" stroke="#c47a1a" stroke-width="0.6"/>
<ellipse cx="720.8" cy="337" rx="48" ry="21" fill="#f39406"/>
<path d="M698,442 Q698,425 712,423 Q722,427 730,422 Q746,421 747,432 L747,445 L698,445Z" fill="#fde1bb" stroke="#c47a1a" stroke-width="0.7"/>
</g>
<line x1="717.1" y1="363" x2="717.1" y2="424" stroke="#8a5a1e" stroke-width="1"/>
<rect x="713.5" y="368" width="7.2" height="12" rx="1.8" fill="#fde3c2" stroke="#d48a25" stroke-width="0.7"/>
<rect x="713.5" y="381" width="7.2" height="12" rx="1.8" fill="#fde3c2" stroke="#d48a25" stroke-width="0.7"/>
<rect x="713.5" y="398" width="7.2" height="12" rx="1.8" fill="#fbc67f" stroke="#d48a25" stroke-width="0.7"/>
<rect x="713.5" y="411" width="7.2" height="12" rx="1.8" fill="#fbc67f" stroke="#d48a25" stroke-width="0.7"/>
<line x1="726.7" y1="363" x2="726.7" y2="424" stroke="#8a5a1e" stroke-width="1"/>
<rect x="723.1" y="368" width="7.2" height="12" rx="1.8" fill="#fde3c2" stroke="#d48a25" stroke-width="0.7"/>
<rect x="723.1" y="381" width="7.2" height="12" rx="1.8" fill="#fde3c2" stroke="#d48a25" stroke-width="0.7"/>
<rect x="723.1" y="398" width="7.2" height="12" rx="1.8" fill="#fbc67f" stroke="#d48a25" stroke-width="0.7"/>
<rect x="723.1" y="411" width="7.2" height="12" rx="1.8" fill="#fbc67f" stroke="#d48a25" stroke-width="0.7"/>
<circle cx="721.3" cy="395.2" r="5" fill="#e8890a" stroke="#fde3c2" stroke-width="1.2"/>
<circle cx="720.8" cy="394.5" r="48.7" fill="none" stroke="#8a5a1e" stroke-width="1.3"/>
<circle cx="624" cy="487" r="48.7" fill="#fdefdf"/>
<g clip-path="url(#kc7)">
<path d="M599,535 Q596,522 602,518 Q598,508 610,505 Q622,499 634,504 Q648,502 650,510 Q646,515 652,520 Q656,530 650,536Z" fill="url(#gTum)" stroke="#c47a1a" stroke-width="0.7"/>
<path d="M620,515 Q626,509 632,515 Q637,519 632,524 Q628,530 620,525 Q615,520 620,515Z" fill="#fde0b0" stroke="#e08a20" stroke-width="0.6"/>
</g>
<ellipse cx="625.2" cy="455.4" rx="20.3" ry="16" fill="#fcd9a8" stroke="#c47a1a" stroke-width="0.8"/>
<ellipse cx="626.5" cy="456.3" rx="16" ry="13" fill="#f39406"/>
<line x1="613.4" y1="470" x2="613.4" y2="505" stroke="#8a5a1e" stroke-width="0.9"/>
<rect x="610.8" y="472.0" width="5.2" height="9.5" rx="1.5" fill="#fbd39a" stroke="#c47a1a" stroke-width="0.6"/>
<rect x="610.8" y="482.5" width="5.2" height="9.5" rx="1.5" fill="#e88a10" stroke="#c47a1a" stroke-width="0.6"/>
<rect x="610.8" y="493.0" width="5.2" height="9.5" rx="1.5" fill="#e88a10" stroke="#c47a1a" stroke-width="0.6"/>
<line x1="625.2" y1="470" x2="625.2" y2="505" stroke="#8a5a1e" stroke-width="0.9"/>
<rect x="622.6" y="472.0" width="5.2" height="9.5" rx="1.5" fill="#e88a10" stroke="#c47a1a" stroke-width="0.6"/>
<rect x="622.6" y="482.5" width="5.2" height="9.5" rx="1.5" fill="#f3a640" stroke="#c47a1a" stroke-width="0.6"/>
<rect x="622.6" y="493.0" width="5.2" height="9.5" rx="1.5" fill="#f3a640" stroke="#c47a1a" stroke-width="0.6"/>
<line x1="630.2" y1="470" x2="630.2" y2="505" stroke="#8a5a1e" stroke-width="0.9"/>
<rect x="627.6" y="472.0" width="5.2" height="9.5" rx="1.5" fill="#fde3c2" stroke="#c47a1a" stroke-width="0.6"/>
<rect x="627.6" y="482.5" width="5.2" height="9.5" rx="1.5" fill="#fde3c2" stroke="#c47a1a" stroke-width="0.6"/>
<rect x="627.6" y="493.0" width="5.2" height="9.5" rx="1.5" fill="#fde3c2" stroke="#c47a1a" stroke-width="0.6"/>
<line x1="635.3" y1="470" x2="635.3" y2="505" stroke="#8a5a1e" stroke-width="0.9"/>
<rect x="632.6999999999999" y="472.0" width="5.2" height="9.5" rx="1.5" fill="#fde3c2" stroke="#c47a1a" stroke-width="0.6"/>
<rect x="632.6999999999999" y="482.5" width="5.2" height="9.5" rx="1.5" fill="#fbd39a" stroke="#c47a1a" stroke-width="0.6"/>
<rect x="632.6999999999999" y="493.0" width="5.2" height="9.5" rx="1.5" fill="#fde3c2" stroke="#c47a1a" stroke-width="0.6"/>
<circle cx="624" cy="487" r="48.7" fill="none" stroke="#8a5a1e" stroke-width="1.3"/>
<g fill="#d3e0e8">
<path d="M443,142.6 Q478,118 526.7,115.2" fill="none" stroke="#d3e0e8" stroke-width="7.4"/>
<polygon points="526,103.3 548,114.9 526,127.8"/>
<path d="M653.5,147 Q681,162 697,184" fill="none" stroke="#d3e0e8" stroke-width="7.3"/>
<polygon points="705.7,175.2 709.3,199.1 686.6,190"/>
<polygon points="740.1,301.7 748.6,301.2 748.6,325.4 756.2,327.6 741,345.9 732.5,323.6 740.5,324.5"/>
<polygon points="692.1,442.1 698,447.3 691.8,455.8 696,461.6 672.7,467.1 679.8,443.8 685.3,448.6"/>
<polygon points="572,506.9 558.4,507.2 558.4,499.8 536.8,511.5 557.8,524 558.1,516 572,514.9"/>
<path d="M434.2,477.8 Q410,462 393.5,440.5" fill="none" stroke="#d3e0e8" stroke-width="7.5"/>
<polygon points="401.8,433.2 379.7,423.5 382.5,448"/>
<path d="M347,313.3 Q348,275 356,251" fill="none" stroke="#d3e0e8" stroke-width="8"/>
<polygon points="345.4,245.2 365.7,230.6 369,254.9"/>
</g>
<path d="M251,246.4 C256.6,248.6 273.4,255.9 284.4,259.7 C295.4,263.5 306.1,266.8 317,269.3 C327.9,271.8 338.3,273.5 349.6,274.8 C360.9,276.1 370.9,277.5 385,277.3 C399.1,277.1 420,275.8 434.4,273.7 C448.8,271.6 460.4,268 471.5,264.8 C482.6,261.6 488.8,257.6 501.1,254.4 C513.5,251.2 533.3,247.5 545.6,245.6 C557.9,243.7 564.1,243.6 574.7,243.1 C585.3,242.6 597.8,242.2 609.4,242.4 C621,242.6 635.8,243.5 644.2,244.4 C652.6,245.3 657.4,247.2 660,247.8" fill="none" stroke="#1a9bcb" stroke-width="3" stroke-dasharray="8,4.5"/>
<polygon points="660.8,238.9 671.25,249.3 656,253.5" fill="#1a9bcb" stroke="#1a9bcb" stroke-width="0.8" stroke-linejoin="round"/>
<polygon points="227,205.5 251.4,189 247,183.2 269.7,186.4 257.3,205.8 256.2,198.5" fill="#169ac7" stroke="#169ac7" stroke-width="1" stroke-linejoin="round"/>
<polygon points="214.5,296.9 238.6,313.8 242.6,307.5 247.8,329.8 225.1,325.5 231,321.4" fill="#169ac7" stroke="#169ac7" stroke-width="1" stroke-linejoin="round"/>
<polygon points="537.1,306.5 558.2,320.8 561.5,315.6 565.7,334.1 546.6,330.5 551.4,327.9" fill="#169ac7" stroke="#169ac7" stroke-width="1" stroke-linejoin="round"/>
<polygon points="345.5,580.5 365,564 360.8,559.1 381.2,560.7 371.8,577.9 370.2,572.4" fill="#169ac7" stroke="#169ac7" stroke-width="1" stroke-linejoin="round"/>
<polygon points="723.3,591.8 706.4,572 711.3,567.7 691.2,565.5 697.3,584.6 700.3,579.1" fill="#169ac7" stroke="#169ac7" stroke-width="1" stroke-linejoin="round"/>
<text y="246.1" text-anchor="middle" dominant-baseline="central" font-size="18" fill="#22983b" stroke="#22983b" stroke-width="0.55"><tspan x="436.3">淋</tspan><tspan x="457.4">巴</tspan><tspan x="476.3">结</tspan></text>
<text y="208.8" text-anchor="middle" dominant-baseline="central" font-size="18" fill="#e05563" stroke="#e05563" stroke-width="0.45"><tspan x="605.5">血</tspan><tspan x="625.9">管</tspan></text>
<text y="332.7" text-anchor="middle" dominant-baseline="central" font-size="18" fill="#ea8615" stroke="#ea8615" stroke-width="0.5"><tspan x="586.7">肿</tspan><tspan x="607.5">瘤</tspan><tspan x="627.2">微</tspan><tspan x="647.5">环</tspan><tspan x="667.2">境</tspan></text>
<rect x="73.1" y="217.4" width="164.1" height="66.4" rx="5" fill="#129ac8"/>
<path d="M73.1,250.9 V222.4 Q73.1,217.4 78.1,217.4 H232.2 Q237.2,217.4 237.2,222.4 V250.9 Z" fill="#034b7b"/>
<text y="236.6" text-anchor="middle" dominant-baseline="central" font-size="18" fill="#fff" stroke="#fff" stroke-width="0.5"><tspan x="117.3">“</tspan><tspan x="129.8">海</tspan><tspan x="147.6">警</tspan><tspan x="167.2">二</tspan><tspan x="184.9">号</tspan><tspan x="198.3">”</tspan></text>
<text y="266.2" text-anchor="middle" dominant-baseline="central" font-size="17" fill="#fff" stroke="#fff" stroke-width="0.2"><tspan x="90">H</tspan><tspan x="103.5">P</tspan><tspan x="116.5">K</tspan><tspan x="127.9">1</tspan><tspan x="144">抑</tspan><tspan x="162.9">制</tspan><tspan x="181.4">剂</tspan><tspan x="201.5">（</tspan><tspan x="215.1">+</tspan><tspan x="229.1">）</tspan></text>
<rect x="414.1" y="287.3" width="111.6" height="65.9" rx="5" fill="#129ac8"/>
<path d="M414.1,320.8 V292.3 Q414.1,287.3 419.1,287.3 H520.7 Q525.7,287.3 525.7,292.3 V320.8 Z" fill="#034b7b"/>
<text y="306.8" text-anchor="middle" dominant-baseline="central" font-size="18" fill="#fff" stroke="#fff" stroke-width="0.5"><tspan x="428.4">“</tspan><tspan x="441.3">政</tspan><tspan x="459.4">委</tspan><tspan x="478.7">三</tspan><tspan x="495.9">号</tspan><tspan x="510.5">”</tspan></text>
<text y="335.1" text-anchor="middle" dominant-baseline="central" font-size="17" fill="#fff" stroke="#fff" stroke-width="0.2"><tspan x="429.9">E</tspan><tspan x="441">P</tspan><tspan x="452.4">4</tspan><tspan x="469">拮</tspan><tspan x="487.4">抗</tspan><tspan x="505.2">剂</tspan></text>
<rect x="214.4" y="538.3" width="107.2" height="66.6" rx="5" fill="#129ac8"/>
<path d="M214.4,573 V543.3 Q214.4,538.3 219.4,538.3 H316.6 Q321.6,538.3 321.6,543.3 V573 Z" fill="#034b7b"/>
<text y="557.8" text-anchor="middle" dominant-baseline="central" font-size="18" fill="#fff" stroke="#fff" stroke-width="0.5"><tspan x="227">“</tspan><tspan x="240.7">空</tspan><tspan x="259.1">警</tspan><tspan x="277.5">一</tspan><tspan x="295.9">号</tspan><tspan x="309.6">”</tspan></text>
<text y="586.7" text-anchor="middle" dominant-baseline="central" font-size="17" fill="#fff" stroke="#fff" stroke-width="0.2"><tspan x="241">溶</tspan><tspan x="259.4">瘤</tspan><tspan x="277.8">病</tspan><tspan x="295.9">毒</tspan></text>
<rect x="740" y="536.3" width="132.8" height="68.7" rx="5" fill="#129ac8"/>
<path d="M740,571.8 V541.3 Q740,536.3 745,536.3 H867.8 Q872.8,536.3 872.8,541.3 V571.8 Z" fill="#034b7b"/>
<text y="557" text-anchor="middle" dominant-baseline="central" font-size="18" fill="#fff" stroke="#fff" stroke-width="0.5"><tspan x="765.9">“</tspan><tspan x="779.4">抗</tspan><tspan x="797.8">癌</tspan><tspan x="816.2">神</tspan><tspan x="834">器</tspan><tspan x="848.7">”</tspan></text>
<text y="586.3" text-anchor="middle" dominant-baseline="central" font-size="17" fill="#fff" stroke="#fff" stroke-width="0.2"><tspan x="757.4">P</tspan><tspan x="770.8">D</tspan><tspan x="782.4">-</tspan><tspan x="790.9">L</tspan><tspan x="801.4">1</tspan><tspan x="816.2">抑</tspan><tspan x="834.9">制</tspan><tspan x="853">剂</tspan></text>
</svg></body></html>
